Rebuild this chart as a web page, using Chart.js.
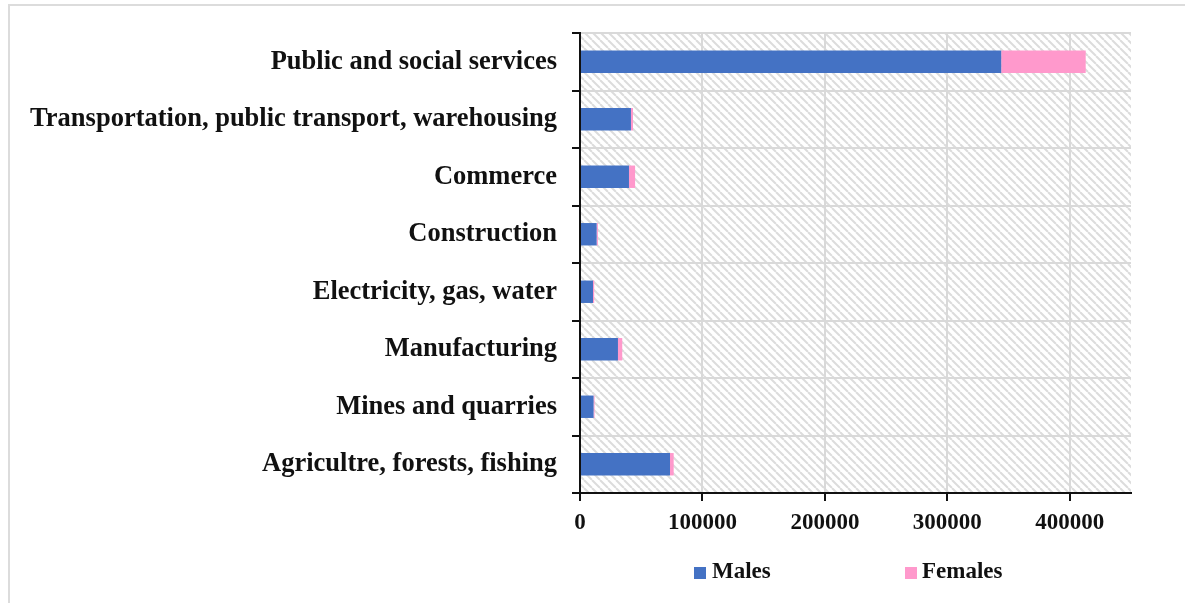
<!DOCTYPE html>
<html>
<head>
<meta charset="utf-8">
<script src="https://cdn.jsdelivr.net/npm/chart.js@4/dist/chart.umd.min.js"></script>
<style>
  html, body { margin: 0; padding: 0; background: #fff; }
  #wrap { position: relative; width: 1185px; height: 603px; overflow: hidden; }
  #frame { position: absolute; left: 8px; top: 4px; right: -10px; bottom: -10px;
           border-left: 2px solid #dcdcdc; border-top: 2px solid #dcdcdc; }
  #chart { position: absolute; left: 0; top: 0; }
  .lg { position: absolute; font: bold 23px 'Liberation Serif', 'Times New Roman', serif;
        line-height: 23px; color: #111; white-space: nowrap; }
  .sw { position: absolute; width: 12px; height: 12px; }
</style>
</head>
<body>
<div id="wrap">
  <div id="frame"></div>
  <canvas id="chart" width="1185" height="603"></canvas>
  <div class="sw" style="left:694px; top:567px; background:#4472C4"></div>
  <div class="lg" style="left:712px; top:559px">Males</div>
  <div class="sw" style="left:905px; top:567px; background:#FF99CC"></div>
  <div class="lg" style="left:922px; top:559px">Females</div>
</div>
<script>
// Employment by economic activity, split by sex
const categories = [
  'Public and social services',
  'Transportation, public transport, warehousing',
  'Commerce',
  'Construction',
  'Electricity, gas, water',
  'Manufacturing',
  'Mines and quarries',
  'Agricultre, forests, fishing'
];
const males   = [344000, 41600, 40000, 13600, 10600, 31000, 11100, 73500];
const females = [69000,   1700,  5000,  1000,  1000,  3500,   800,  3000];
const xTicks  = [0, 100000, 200000, 300000, 400000];
const xMax = 450000;

const SERIF = "'Liberation Serif', 'Times New Roman', serif";

// diagonal hatch used behind the bars
function makeHatch() {
  const c = document.createElement('canvas');
  c.width = 8; c.height = 8;
  const g = c.getContext('2d');
  g.strokeStyle = '#dcdcdc';
  g.lineWidth = 2;
  for (const k of [-8, 0, 8]) {
    g.beginPath();
    g.moveTo(k, 0);
    g.lineTo(k + 8, 8);
    g.stroke();
  }
  return g.createPattern(c, 'repeat');
}

const hatchBackground = {
  id: 'hatchBackground',
  beforeDraw(chart) {
    const { ctx, chartArea: a } = chart;
    ctx.save();
    ctx.fillStyle = makeHatch();
    ctx.fillRect(a.left, a.top, a.right - a.left, a.bottom - a.top);
    ctx.restore();
  }
};

new Chart(document.getElementById('chart'), {
  type: 'bar',
  data: {
    labels: categories,
    datasets: [
      { label: 'Males', data: males, backgroundColor: '#4472C4' },
      { label: 'Females', data: females, backgroundColor: '#FF99CC' }
    ]
  },
  options: {
    indexAxis: 'y',
    responsive: false,
    animation: false,
    layout: { padding: { left: 0, right: 54, top: 33, bottom: 0 } },
    datasets: { bar: { barPercentage: 0.39, categoryPercentage: 1 } },
    plugins: { legend: { display: false }, tooltip: { enabled: false } },
    scales: {
      x: {
        type: 'linear',
        stacked: true,
        min: 0,
        max: xMax,
        afterFit(s) { s.height = 110; },
        afterBuildTicks(s) { s.ticks = xTicks.map(v => ({ value: v })); },
        ticks: {
          color: '#111',
          padding: 8,
          maxRotation: 0,
          autoSkip: false,
          font: { family: SERIF, size: 23, weight: 'bold' },
          callback: v => String(v)
        },
        grid: { color: '#d9d9d9', lineWidth: 2, tickColor: '#111', tickLength: 8, tickWidth: 2 },
        border: { color: '#111', width: 2 }
      },
      y: {
        stacked: true,
        afterFit(s) { s.width = 580; },
        ticks: {
          color: '#111',
          padding: 15,
          autoSkip: false,
          font: { family: SERIF, size: 26.5, weight: 'bold' }
        },
        grid: { color: '#d9d9d9', lineWidth: 2, tickColor: '#111', tickLength: 8, tickWidth: 2, offset: true },
        border: { color: '#111', width: 2 }
      }
    }
  },
  plugins: [hatchBackground]
});
</script>
</body>
</html>
